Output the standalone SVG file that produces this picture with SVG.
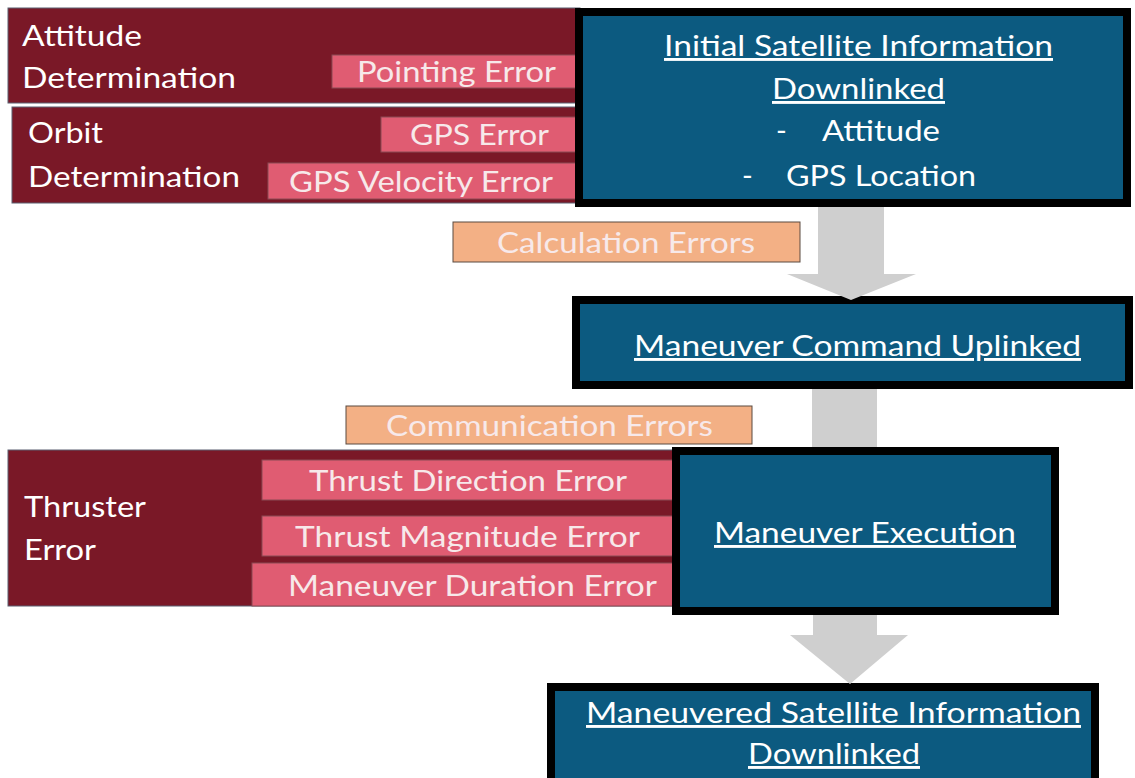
<svg xmlns="http://www.w3.org/2000/svg" width="1135" height="778" viewBox="0 0 1135 778">
<style>
.red{fill:#7a1827;stroke:#5a5f70;stroke-width:1}
.pink{fill:#e05c72;stroke:#8a4a55;stroke-width:1}
.peach{fill:#f3b085;stroke:#5a4a40;stroke-width:1}
.blue{fill:#0c5a80;stroke:#000;stroke-width:8}
.arrow{fill:#cfcfcf}
text{font-family:Lato,"Open Sans","Liberation Sans",sans-serif;font-size:29px;fill:#fff}
.lt{fill:#f7e9ea}
.u{text-decoration:underline}
</style>
<rect width="1135" height="778" fill="#fff"/>
<g id="attitude">
<rect class="red" x="8" y="8" width="572" height="95"/>
<text x="22" y="46" textLength="120" lengthAdjust="spacingAndGlyphs">Attitude</text>
<text x="22" y="88" textLength="214" lengthAdjust="spacingAndGlyphs">Determination</text>
</g>
<g id="pointing">
<rect class="pink" x="332" y="55" width="246" height="33"/>
<text class="lt" x="357" y="82" textLength="199" lengthAdjust="spacingAndGlyphs">Pointing Error</text>
</g>
<g id="orbit">
<rect class="red" x="12" y="107" width="568" height="96"/>
<text x="28" y="143" textLength="75" lengthAdjust="spacingAndGlyphs">Orbit</text>
<text x="28" y="187" textLength="212" lengthAdjust="spacingAndGlyphs">Determination</text>
</g>
<g id="gps">
<rect class="pink" x="381" y="117" width="197" height="35"/>
<text class="lt" x="410" y="145" textLength="139" lengthAdjust="spacingAndGlyphs">GPS Error</text>
</g>
<g id="gpsvel">
<rect class="pink" x="268" y="163" width="310" height="36"/>
<text class="lt" x="289" y="192" textLength="264" lengthAdjust="spacingAndGlyphs">GPS Velocity Error</text>
</g>
<g id="initial">
<rect class="blue" x="579" y="12" width="548" height="191"/>
<text class="u" x="664" y="56" textLength="389" lengthAdjust="spacingAndGlyphs">Initial Satellite Information</text>
<text class="u" x="772" y="99" textLength="173" lengthAdjust="spacingAndGlyphs">Downlinked</text>
<text x="776" y="141">-</text>
<text x="822" y="141" textLength="118" lengthAdjust="spacingAndGlyphs">Attitude</text>
<text x="742" y="186">-</text>
<text x="786" y="186" textLength="190" lengthAdjust="spacingAndGlyphs">GPS Location</text>
</g>
<g id="calc">
<rect class="peach" x="453" y="222" width="347" height="40"/>
<text class="lt" x="497" y="253" textLength="258" lengthAdjust="spacingAndGlyphs">Calculation Errors</text>
</g>
<g id="command">
<rect class="blue" x="576" y="300" width="553" height="85"/>
<text class="u" x="634" y="356" textLength="447" lengthAdjust="spacingAndGlyphs">Maneuver Command Uplinked</text>
</g>
<g id="comm">
<rect class="peach" x="346" y="406" width="406" height="38"/>
<text class="lt" x="386" y="436" textLength="327" lengthAdjust="spacingAndGlyphs">Communication Errors</text>
</g>
<g id="thruster">
<rect class="red" x="8" y="450" width="672" height="156"/>
<text x="24" y="517" textLength="122" lengthAdjust="spacingAndGlyphs">Thruster</text>
<text x="24" y="560" textLength="72" lengthAdjust="spacingAndGlyphs">Error</text>
</g>
<g id="tdir">
<rect class="pink" x="262" y="460" width="414" height="40"/>
<text class="lt" x="309" y="491" textLength="318" lengthAdjust="spacingAndGlyphs">Thrust Direction Error</text>
</g>
<g id="tmag">
<rect class="pink" x="262" y="516" width="412" height="40"/>
<text class="lt" x="295" y="547" textLength="345" lengthAdjust="spacingAndGlyphs">Thrust Magnitude Error</text>
</g>
<g id="tdur">
<rect class="pink" x="252" y="563" width="422" height="43"/>
<text class="lt" x="288" y="596" textLength="369" lengthAdjust="spacingAndGlyphs">Maneuver Duration Error</text>
</g>
<g id="execution">
<rect class="blue" x="676" y="451" width="379" height="160"/>
<text class="u" x="714" y="543" textLength="302" lengthAdjust="spacingAndGlyphs">Maneuver Execution</text>
</g>
<g id="final">
<rect class="blue" x="551" y="687" width="544" height="100"/>
<text class="u" x="586" y="723" textLength="495" lengthAdjust="spacingAndGlyphs">Maneuvered Satellite Information</text>
<text class="u" x="748" y="764" textLength="172" lengthAdjust="spacingAndGlyphs">Downlinked</text>
</g>
<g id="connectors">
<polygon class="arrow" points="818,207 884,207 884,274 916,274 851,300 787,274 818,274"/>
<polygon class="arrow" points="812,389 877,389 877,447 812,447"/>
<polygon class="arrow" points="813,615 877,615 877,635 908,635 850,684 790,635 813,635"/>
</g>
</svg>
